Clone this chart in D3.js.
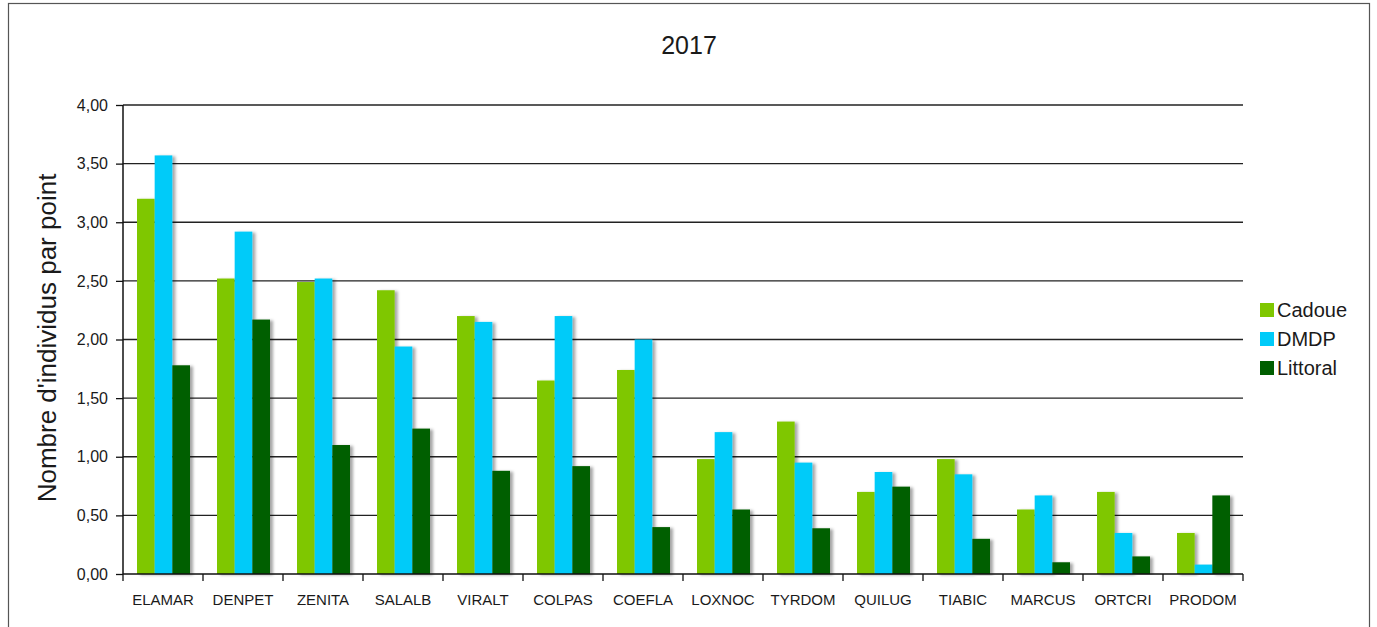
<!DOCTYPE html>
<html>
<head>
<meta charset="utf-8">
<script src="https://cdn.jsdelivr.net/npm/d3@7"></script>
<style>
  body { margin: 0; background: #fff; }
  text { font-family: "Liberation Sans", Arial, sans-serif; fill: #1a1a1a; }
</style>
</head>
<body>
<svg id="chart" width="1377" height="627"></svg>
<script>
// data van de grafiek
var especes = ["ELAMAR", "DENPET", "ZENITA", "SALALB", "VIRALT", "COLPAS", "COEFLA",
               "LOXNOC", "TYRDOM", "QUILUG", "TIABIC", "MARCUS", "ORTCRI", "PRODOM"]
var series = ["Cadoue", "DMDP", "Littoral"]
var cadoue   = [3.20, 2.52, 2.49, 2.42, 2.20, 1.65, 1.74, 0.98, 1.30, 0.70, 0.98, 0.55, 0.70, 0.35]
var dmdp     = [3.57, 2.92, 2.52, 1.94, 2.15, 2.20, 2.00, 1.21, 0.95, 0.87, 0.85, 0.67, 0.35, 0.08]
var littoral = [1.78, 2.17, 1.10, 1.24, 0.88, 0.92, 0.40, 0.55, 0.39, 0.745, 0.30, 0.10, 0.15, 0.67]
var yTicks = [0, 0.5, 1, 1.5, 2, 2.5, 3, 3.5, 4]
var kleuren = ["#7fc700", "#00cbf9", "#005e00"]

var data = especes.map(function(e, i) {
  return {espece: e, Cadoue: cadoue[i], DMDP: dmdp[i], Littoral: littoral[i]}
})

// margins
var margin = {top: 105, right: 134, bottom: 53, left: 123}
var width = 1377 - margin.left - margin.right
var height = 627 - margin.top - margin.bottom

var svg = d3.select("#chart")

// kader
svg.append("rect")
  .attr("x", 8.5).attr("y", 3.5)
  .attr("width", 1361).attr("height", 640)
  .attr("fill", "none").attr("stroke", "#555").attr("stroke-width", 1.2)

// schaduw filter
var defs = svg.append("defs")
var f = defs.append("filter").attr("id", "schaduw")
  .attr("x", "-20%").attr("y", "-5%").attr("width", "160%").attr("height", "110%")
f.append("feDropShadow")
  .attr("dx", 3).attr("dy", 1).attr("stdDeviation", 1.5)
  .attr("flood-color", "#000").attr("flood-opacity", 0.35)

var g = svg.append("g")
  .attr("transform", "translate(" + margin.left + "," + margin.top + ")")

var x0 = d3.scaleBand().domain(especes).range([0, width])
var x1 = d3.scaleBand().domain(series).range([14, 67])
var y = d3.scaleLinear().domain([0, 4]).range([height, 0])
var z = d3.scaleOrdinal().domain(series).range(kleuren)

// rasterlijnen
g.append("g")
  .selectAll("line")
  .data(yTicks.slice(1))
  .enter().append("line")
    .attr("x1", 0).attr("x2", width)
    .attr("y1", function(d) { return y(d) }).attr("y2", function(d) { return y(d) })
    .attr("stroke", "#222").attr("stroke-width", 1.3)

// staven
g.append("g")
  .selectAll("g")
  .data(data)
  .enter().append("g")
    .attr("transform", function(d) { return "translate(" + x0(d.espece) + ",0)" })
  .selectAll("rect")
  .data(function(d) { return series.map(function(k) { return {key: k, value: d[k]} }) })
  .enter().append("rect")
    .attr("x", function(d) { return x1(d.key) })
    .attr("width", x1.bandwidth())
    .attr("y", function(d) { return y(d.value) })
    .attr("height", function(d) { return height - y(d.value) })
    .attr("fill", function(d) { return z(d.key) })
    .attr("filter", "url(#schaduw)")

// y as
var yAxis = g.append("g")
  .call(d3.axisLeft(y).tickValues(yTicks).tickSize(7).tickPadding(8)
    .tickFormat(function(d) { return d3.format(".2f")(d).replace(".", ",") }))
yAxis.select(".domain").attr("stroke", "#111").attr("stroke-width", 1.5).attr("d", "M0,0V" + height)
yAxis.selectAll(".tick line").attr("stroke", "#111").attr("stroke-width", 1.3)
yAxis.selectAll("text").style("font-size", "16px").attr("fill", "#1a1a1a")

// x as
var xAxis = g.append("g")
  .attr("transform", "translate(0," + height + ")")
  .call(d3.axisBottom(x0).tickSize(0).tickPadding(20))
xAxis.select(".domain").attr("stroke", "#111").attr("stroke-width", 1.5).attr("d", "M0,0H" + width)
xAxis.selectAll("text").style("font-size", "15px").attr("fill", "#1a1a1a")
xAxis.selectAll(".sep")
  .data(d3.range(especes.length + 1))
  .enter().append("line")
    .attr("x1", function(i) { return i * x0.bandwidth() })
    .attr("x2", function(i) { return i * x0.bandwidth() })
    .attr("y1", 0).attr("y2", 7)
    .attr("stroke", "#111").attr("stroke-width", 1.3)

// titels
svg.append("text")
  .attr("x", 689).attr("y", 54)
  .attr("text-anchor", "middle")
  .style("font-size", "25px")
  .text("2017")

svg.append("text")
  .attr("transform", "translate(56," + (margin.top + 233) + ") rotate(-90)")
  .attr("text-anchor", "middle")
  .style("font-size", "26px")
  .text("Nombre d'individus par point")

// legenda
var legend = svg.append("g")
  .selectAll("g")
  .data(series)
  .enter().append("g")
    .attr("transform", function(d, i) { return "translate(1260," + (303 + i * 29) + ")" })

legend.append("rect")
  .attr("width", 14).attr("height", 14)
  .attr("fill", function(d) { return z(d) })

legend.append("text")
  .attr("x", 17).attr("y", 14)
  .style("font-size", "20px")
  .text(function(d) { return d })
</script>
</body>
</html>
